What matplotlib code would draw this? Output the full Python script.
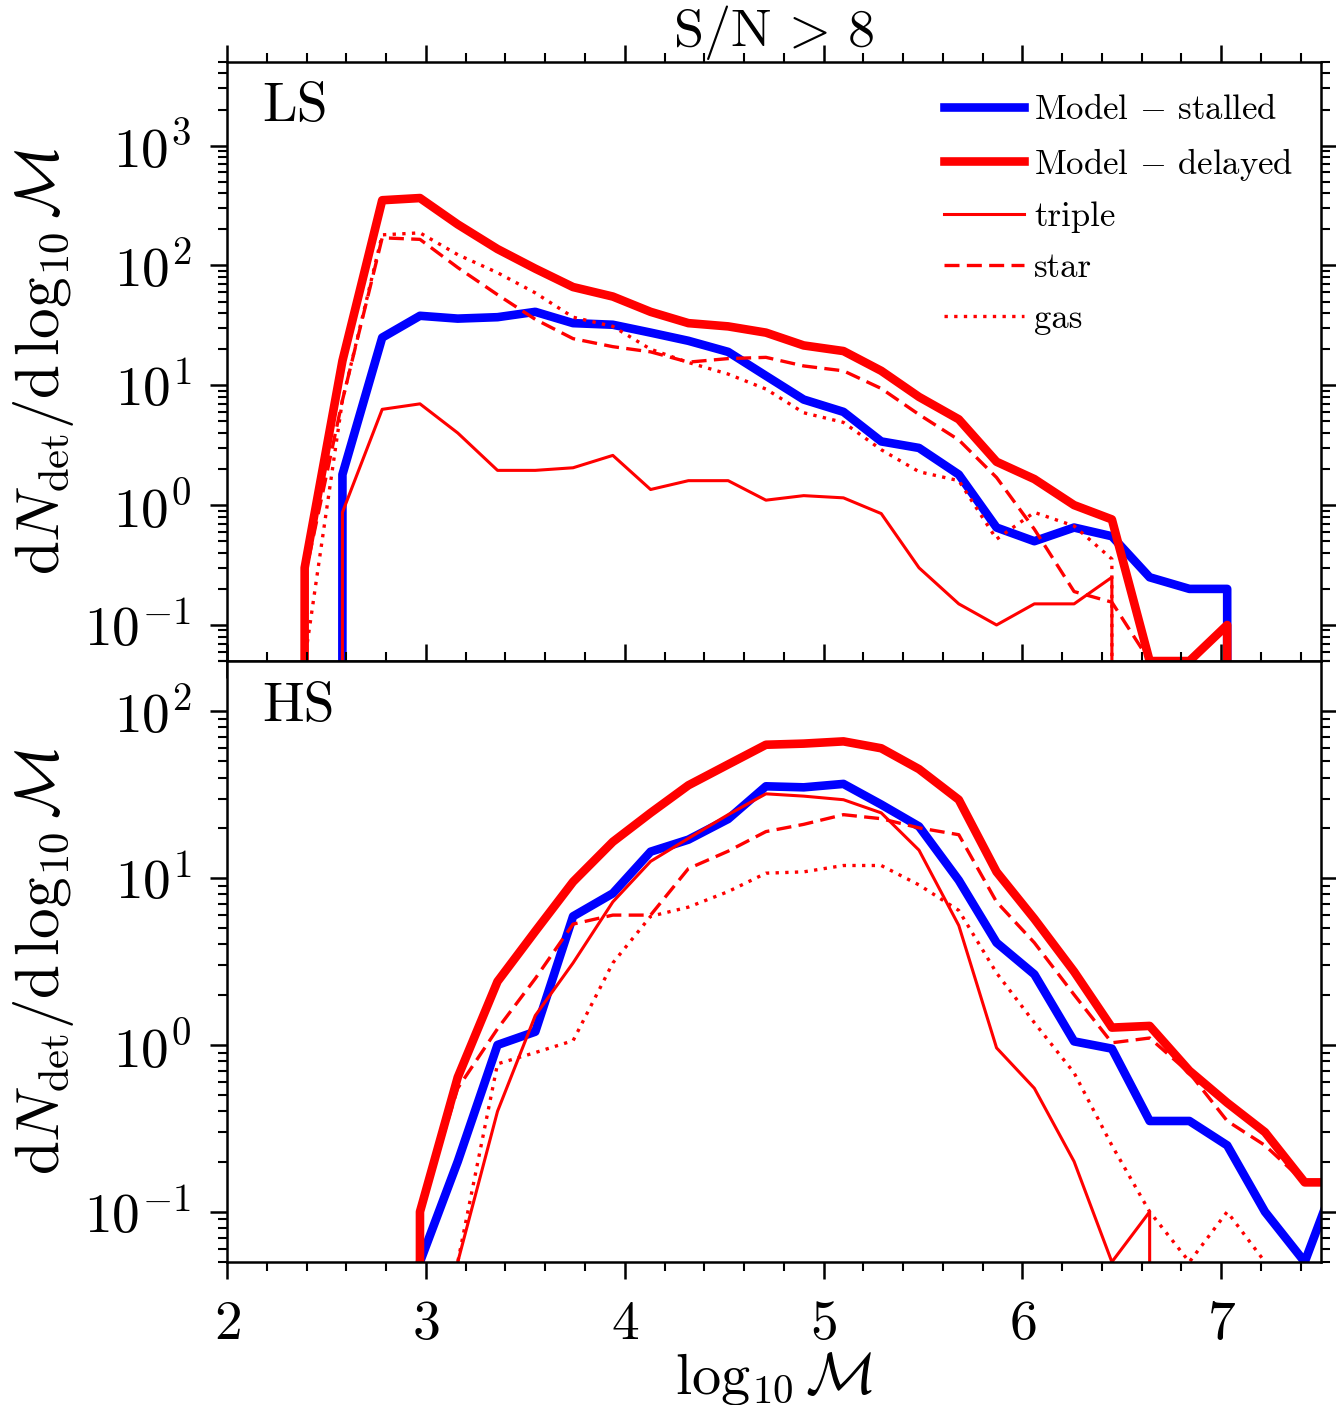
import matplotlib
matplotlib.use('Agg')
import matplotlib.pyplot as plt
from matplotlib.lines import Line2D
from matplotlib.ticker import FuncFormatter, LogLocator, MultipleLocator
import numpy as np

plt.rcParams.update({
    'font.family': 'serif',
    'font.serif': ['cmr10'],
    'mathtext.fontset': 'cm',
    'axes.formatter.use_mathtext': True,
    'axes.linewidth': 1.8,
})

# bin centres in log10 chirp mass
logM = [2.19, 2.39, 2.58, 2.78, 2.97, 3.16, 3.36, 3.55, 3.74, 3.94, 4.13, 4.32, 4.52, 4.71, 4.90,
        5.10, 5.29, 5.48, 5.68, 5.87, 6.06, 6.26, 6.45, 6.64, 6.84, 7.03, 7.22, 7.42, 7.61]

# LS panel
ls_stalled = [0, 0, 1.8, 25, 38, 36, 37, 41, 33, 32, 27.5, 23.5, 19, 12, 7.6,
              6.0, 3.4, 3.0, 1.8, 0.65, 0.5, 0.65, 0.55, 0.25, 0.2, 0.2, 0, 0, 0]
ls_delayed = [0, 0.3, 16, 350, 365, 220, 137, 94, 66, 55, 41, 33, 31, 27.5, 21.5,
              19.3, 13.2, 8.0, 5.2, 2.3, 1.65, 1.0, 0.76, 0.05, 0.05, 0.1, 0, 0, 0]
ls_triple = [0, 0, 0.87, 6.3, 7.0, 4.0, 1.95, 1.95, 2.05, 2.6, 1.35, 1.6, 1.6, 1.1, 1.2,
             1.15, 0.85, 0.3, 0.15, 0.1, 0.15, 0.15, 0.25, 0, 0, 0, 0, 0, 0]
ls_star = [0, 0.25, 7.5, 170, 165, 96, 57, 35.5, 24.5, 21, 19, 15.6, 16.7, 17.1, 14.5,
           13.2, 9.4, 5.7, 3.5, 1.7, 0.63, 0.19, 0.155, 0.05, 0.05, 0.1, 0, 0, 0]
ls_gas = [0, 0.05, 7.5, 180, 187, 123, 87, 59, 37, 31, 20, 15.5, 12.4, 9.3, 5.9,
          4.9, 2.9, 1.9, 1.6, 0.52, 0.87, 0.67, 0.355, 0, 0, 0, 0, 0, 0]

# HS panel
hs_stalled = [0, 0, 0, 0, 0.05, 0.2, 1.0, 1.2, 5.9, 8.1, 14.4, 17, 22.6, 35.5, 35,
              36.7, 27.6, 20.4, 9.7, 4.1, 2.65, 1.05, 0.95, 0.35, 0.35, 0.25, 0.1, 0.05, 0.2]
hs_delayed = [0, 0, 0, 0, 0.1, 0.64, 2.4, 4.8, 9.5, 16.5, 24.6, 36, 48, 63, 64,
              66, 60, 45, 29.5, 10.9, 5.7, 2.75, 1.27, 1.3, 0.7, 0.45, 0.3, 0.15, 0.15]
hs_triple = [0, 0, 0, 0, 0, 0.05, 0.4, 1.5, 3.1, 7.2, 12.6, 17.3, 24, 32, 31,
             29.5, 24.6, 14.7, 5.2, 0.96, 0.55, 0.2, 0.05, 0.1, 0, 0, 0, 0, 0]
hs_star = [0, 0, 0, 0, 0.1, 0.55, 1.25, 2.5, 5.3, 6.0, 6.0, 11.4, 14.5, 19, 21,
           24, 22.7, 20, 18.2, 7.2, 4.1, 2.0, 1.03, 1.1, 0.68, 0.35, 0.25, 0.15, 0.15]
hs_gas = [0, 0, 0, 0, 0, 0.05, 0.77, 0.9, 1.06, 3.1, 5.9, 6.7, 8.3, 10.7, 10.9,
          11.9, 11.9, 9.1, 6.4, 2.7, 1.36, 0.68, 0.25, 0.1, 0.05, 0.1, 0.05, 0, 0]

panels = [('LS', ls_stalled, ls_delayed, ls_triple, ls_star, ls_gas, (0.05, 5000)),
          ('HS', hs_stalled, hs_delayed, hs_triple, hs_star, hs_gas, (0.05, 200))]

fig = plt.figure(figsize=(13.36, 14.05), dpi=100)
ax_top = fig.add_axes([0.170, 0.5295, 0.8185, 0.4265])
ax_bot = fig.add_axes([0.170, 0.1018, 0.8185, 0.4277], sharex=ax_top)

thick = 6.2
thin = 2.2
dash = (4.5, 2.2)
dot = (1.0, 1.9)

def pow_fmt(v, pos):
    e = int(round(np.log10(v)))
    return r'$10^{%d}$' % e

ylab = r'$\mathrm{d}N_{\rm det}/\mathrm{d}\,\log_{10}\mathcal{M}$'

for ax, (name, stalled, delayed, triple, star, gas, ylim) in zip([ax_top, ax_bot], panels):
    ax.set_yscale('log')
    ax.plot(logM, stalled, color='b', lw=thick)
    ax.plot(logM, delayed, color='r', lw=thick)
    ax.plot(logM, triple, color='r', lw=thin)
    ax.plot(logM, star, color='r', lw=2.4, dashes=dash)
    ax.plot(logM, gas, color='r', lw=2.4, dashes=dot)
    ax.set_xlim(2, 7.5)
    ax.set_ylim(*ylim)
    ax.xaxis.set_major_locator(MultipleLocator(1))
    ax.xaxis.set_minor_locator(MultipleLocator(0.2))
    ax.yaxis.set_major_locator(LogLocator(base=10, numticks=20))
    ax.yaxis.set_minor_locator(LogLocator(base=10, subs=np.arange(2, 10), numticks=20))
    ax.yaxis.set_major_formatter(FuncFormatter(pow_fmt))
    ax.tick_params(which='both', direction='out', top=True, right=True, labelsize=40)
    ax.tick_params(which='major', length=12, width=1.8)
    ax.tick_params(which='minor', length=6.5, width=1.5)
    ax.tick_params(axis='y', which='major', pad=14)
    ax.tick_params(axis='x', which='major', pad=16)
    ax.set_ylabel(ylab, fontsize=44)
    ax.yaxis.set_label_coords(-0.138, 0.5)
    ax.text(0.032, 0.965, name, transform=ax.transAxes, fontsize=40, va='top', ha='left')

ax_top.tick_params(labelbottom=False)
ax_bot.set_xlabel(r'$\log_{10}\mathcal{M}$', fontsize=42, labelpad=0)
ax_top.set_title(r'$\mathrm{S/N}\, >\, 8$', fontsize=39, pad=6)

handles = [Line2D([], [], color='b', lw=thick),
           Line2D([], [], color='r', lw=thick),
           Line2D([], [], color='r', lw=thin),
           Line2D([], [], color='r', lw=2.4, dashes=dash),
           Line2D([], [], color='r', lw=2.4, dashes=dot)]
labels = [r'Model $-$ stalled', r'Model $-$ delayed', 'triple', 'star', 'gas']
ax_top.legend(handles, labels, loc='upper right', bbox_to_anchor=(0.975, 0.945),
              frameon=False, fontsize=25, handlelength=2.3, handletextpad=0.3,
              labelspacing=0.55, borderpad=0, borderaxespad=0)

fig.savefig('out.png', dpi=100)
